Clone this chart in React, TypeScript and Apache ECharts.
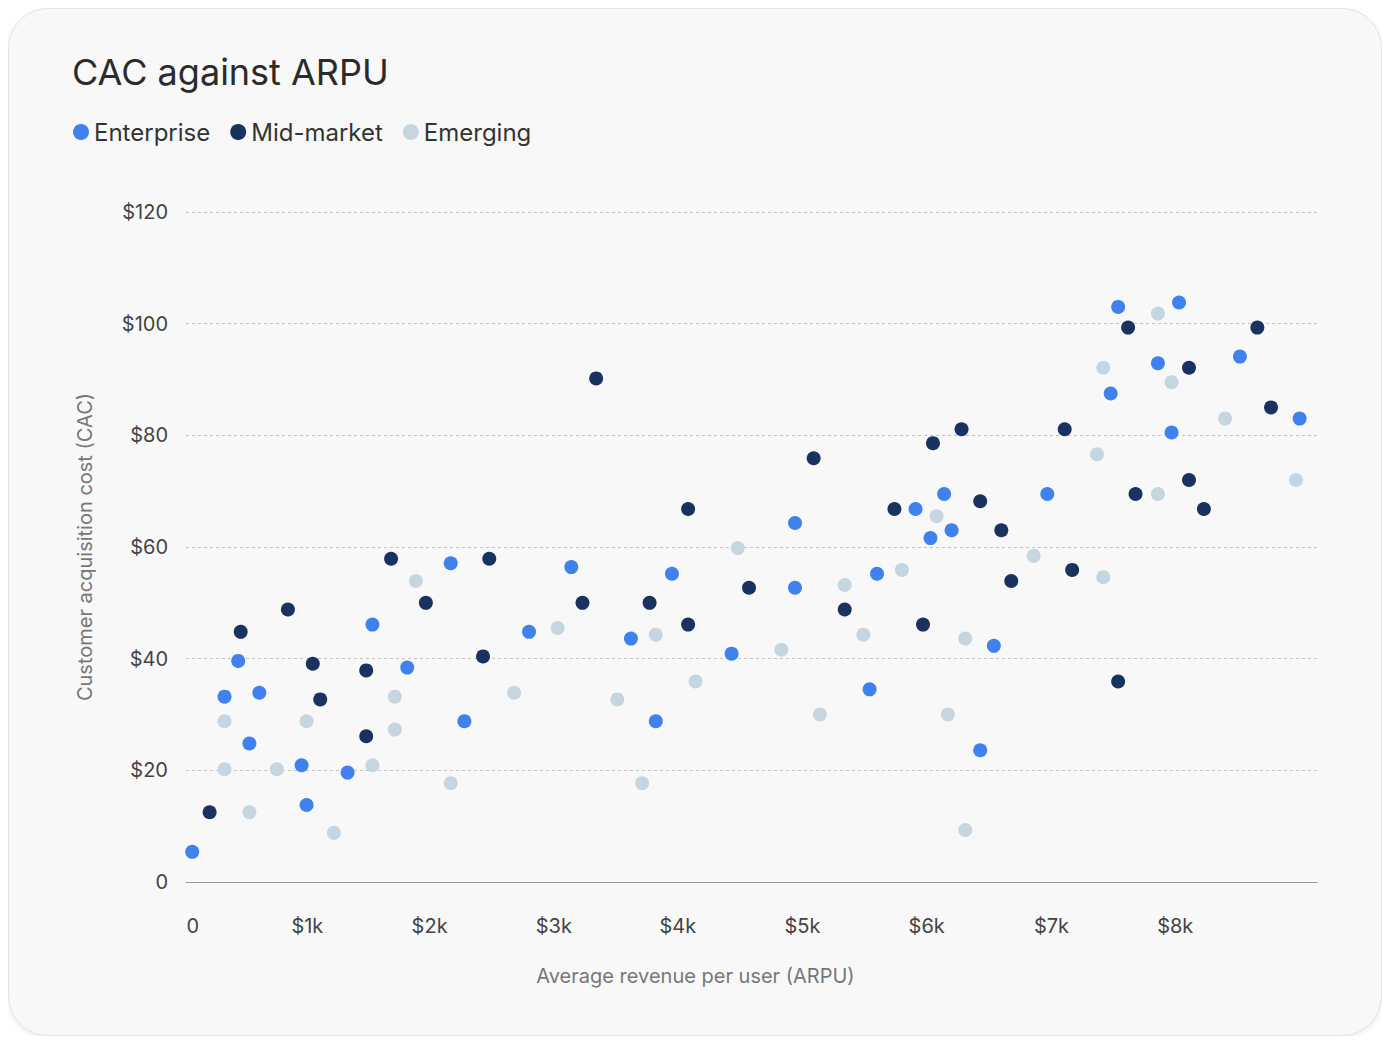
import { useEffect, useRef } from 'react';
import * as echarts from 'echarts';

const SERIES_NAMES = ['Enterprise', 'Mid-market', 'Emerging'];
const COLORS = ['#3f82ed', '#1a3260', '#c6d6e1'];
const X_TICKS = [0, 1000, 2000, 3000, 4000, 5000, 6000, 7000, 8000, 9000];

// [ARPU ($), CAC ($)]
const enterprise = [
  [0, 5.4], [260, 33.2], [370, 39.6], [460, 24.8], [540, 33.9], [880, 20.9], [920, 13.8],
  [1250, 19.6], [1450, 46.1], [1730, 38.4], [2080, 57.1], [2190, 28.8], [2710, 44.8],
  [3050, 56.4], [3530, 43.6], [3730, 28.8], [3860, 55.2], [4340, 40.9], [4850, 64.3],
  [4850, 52.7], [5450, 34.5], [5510, 55.2], [5820, 66.8], [5940, 61.6], [6050, 69.5],
  [6110, 63.0], [6340, 23.6], [6450, 42.3], [6880, 69.5], [7390, 87.5], [7450, 103.0],
  [7770, 92.9], [7880, 80.5], [7940, 103.8], [8430, 94.1], [8910, 83.0],
];
const midMarket = [
  [140, 12.5], [390, 44.8], [770, 48.8], [970, 39.1], [1030, 32.7], [1400, 37.9],
  [1400, 26.1], [1600, 57.9], [1880, 50.0], [2340, 40.4], [2390, 57.9], [3140, 50.0],
  [3250, 90.2], [3680, 50.0], [3990, 66.8], [3990, 46.1], [4480, 52.7], [5000, 75.9],
  [5250, 48.8], [5650, 66.8], [5880, 46.1], [5960, 78.6], [6190, 81.1], [6340, 68.2],
  [6510, 63.0], [6590, 53.9], [7020, 81.1], [7080, 55.9], [7450, 35.9], [7530, 99.3],
  [7590, 69.5], [8020, 92.1], [8020, 72.0], [8140, 66.8], [8570, 99.3], [8680, 85.0],
];
const emerging = [
  [260, 28.8], [260, 20.2], [460, 12.5], [680, 20.2], [920, 28.8], [1140, 8.8],
  [1450, 20.9], [1630, 33.2], [1630, 27.3], [1800, 53.9], [2080, 17.7], [2590, 33.9],
  [2940, 45.5], [3420, 32.7], [3620, 17.7], [3730, 44.3], [4050, 35.9], [4390, 59.8],
  [4740, 41.6], [5050, 30.0], [5250, 53.2], [5400, 44.3], [5710, 55.9], [5990, 65.5],
  [6080, 30.0], [6220, 43.6], [6220, 9.3], [6770, 58.4], [7280, 76.6], [7330, 92.1],
  [7330, 54.6], [7770, 101.8], [7770, 69.5], [7880, 89.5], [8310, 83.0], [8880, 72.0],
];

export default function App() {
  const ref = useRef<HTMLDivElement>(null);

  useEffect(() => {
    if (!ref.current) return;
    const chart = echarts.init(ref.current, undefined, { renderer: 'svg' });
    const font = 'Inter, "Noto Sans", sans-serif';
    // labels sit right-aligned just past their tick, as in the reference
    const LABEL_SHIFT = 55;
    const fmtX = (v: number) => {
      const k = Math.round((v - LABEL_SHIFT) / 1000);
      return k === 0 ? '0' : `$${k}k`;
    };

    chart.setOption({
      animation: false,
      textStyle: { fontFamily: font },
      title: {
        text: 'CAC against ARPU',
        left: 58,
        top: 40,
        textStyle: { fontSize: 36, fontWeight: 'normal', color: '#2b2b2b', fontFamily: font },
      },
      legend: {
        left: 59,
        top: 106,
        icon: 'circle',
        itemWidth: 16,
        itemHeight: 16,
        itemGap: 20,
        textStyle: { fontSize: 24, color: '#333', fontFamily: font },
        data: SERIES_NAMES,
      },
      grid: { left: 177, right: 64, top: 203, bottom: 153 },
      xAxis: {
        type: 'value',
        min: -50,
        max: 9050,
        name: 'Average revenue per user (ARPU)',
        nameLocation: 'middle',
        nameGap: 84,
        nameTextStyle: { fontSize: 20, color: '#777', padding: [0, 112, 0, 0] },
        axisLine: { show: true, lineStyle: { color: '#999' } },
        axisTick: { show: false },
        splitLine: { show: false },
        axisLabel: {
          customValues: X_TICKS.map((t) => t + LABEL_SHIFT),
          formatter: fmtX,
          align: 'right',
          fontSize: 20,
          color: '#444',
          margin: 34,
        },
      },
      yAxis: {
        type: 'value',
        min: 0,
        max: 120,
        interval: 20,
        name: 'Customer acquisition cost (CAC)',
        nameLocation: 'middle',
        nameGap: 91,
        nameTextStyle: { fontSize: 20, color: '#777' },
        axisLine: { show: false },
        axisTick: { show: false },
        axisLabel: {
          formatter: (v: number) => (v === 0 ? '0' : `$${v}`),
          fontSize: 20,
          color: '#444',
          margin: 18,
        },
        splitLine: { lineStyle: { color: '#c4c4c4', type: [3, 3] } },
      },
      series: [enterprise, midMarket, emerging].map((d, i) => ({
        name: SERIES_NAMES[i],
        type: 'scatter',
        data: d,
        symbolSize: 14,
        itemStyle: { color: COLORS[i], opacity: 1 },
      })),
    });

    return () => chart.dispose();
  }, []);

  return (
    <div
      style={{
        width: 1374,
        height: 1028,
        borderRadius: 40,
        background: '#f8f8f8',
        border: '1px solid #e4e4e4',
        boxShadow: '0 2px 6px rgba(0,0,0,0.08)',
        boxSizing: 'border-box',
        overflow: 'hidden',
      }}
    >
      <div ref={ref} style={{ width: 1372, height: 1026 }} />
    </div>
  );
}
